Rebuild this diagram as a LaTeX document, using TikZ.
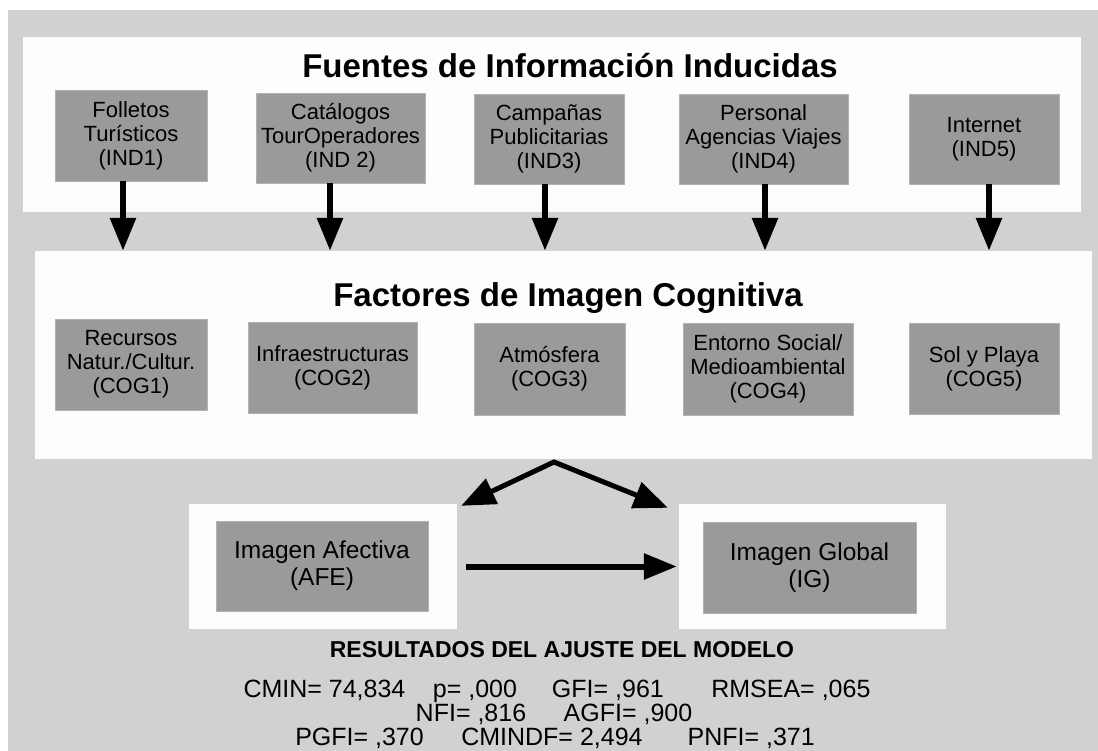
\documentclass[tikz,border=0pt]{standalone}
\usepackage{fontspec}
\setmainfont{Liberation Sans}
\usepackage{tikz}
\usetikzlibrary{arrows.meta}
\definecolor{backgray}{RGB}{209,209,209}
\definecolor{boxgray}{RGB}{154,154,154}
\definecolor{boxedge}{RGB}{178,178,178}
\definecolor{panelwhite}{RGB}{253,253,253}

\tikzset{
  panel/.style={rectangle, fill=panelwhite, inner sep=0pt},
  varbox/.style={rectangle, fill=boxgray, draw=boxedge, line width=0.8pt, inner sep=0pt,
    align=center, font=\fontsize{22}{24}\selectfont},
  bigbox/.style={varbox, font=\fontsize{24.5}{27}\selectfont},
  heading/.style={font=\fontsize{33}{40}\selectfont\bfseries, anchor=base, inner sep=0pt},
  fitline/.style={font=\fontsize{25}{28}\selectfont, anchor=base, inner sep=0pt,
    text height=18pt, text depth=4pt},
  arr/.style={-{Triangle[length=33pt,width=25pt]}, line width=6pt},
}

\begin{document}
\begin{tikzpicture}[x=1pt, y=-1pt]
      % Background
      \useasboundingbox (0,0) rectangle (1098,751);
      \fill[backgray] (8,10) rectangle (1098,751);

      % Induced information sources
      \node[panel, minimum width=1058pt, minimum height=175pt] (ipanel) at (552,124.5) {};
      \node[heading] (ititle) at (570,78) {Fuentes de Información Inducidas};
      \node[varbox, minimum width=152pt, minimum height=91pt] (ind1) at (131,135.5) {Folletos\\Turísticos\\(IND1)};
      \node[varbox, minimum width=169pt, minimum height=90pt] (ind2) at (340.5,138) {Catálogos\\TourOperadores\\(IND 2)};
      \node[varbox, minimum width=150pt, minimum height=90pt] (ind3) at (549,139) {Campañas\\Publicitarias\\(IND3)};
      \node[varbox, minimum width=169pt, minimum height=90pt] (ind4) at (763.5,139) {Personal\\Agencias Viajes\\(IND4)};
      \node[varbox, minimum width=150pt, minimum height=90pt] (ind5) at (984,139) {Internet\\(IND5)};

      % Cognitive image factors
      \node[panel, minimum width=1057pt, minimum height=208pt] (cpanel) at (563.5,355) {};
      \node[heading] (ctitle) at (568,307) {Factores de Imagen Cognitiva};
      \node[varbox, minimum width=152pt, minimum height=91pt] (cog1) at (131,364.5) {Recursos\\Natur./Cultur.\\(COG1)};
      \node[varbox, minimum width=169pt, minimum height=91pt] (cog2) at (332.5,367.5) {Infraestructuras\\(COG2)};
      \node[varbox, minimum width=151pt, minimum height=92pt] (cog3) at (549.5,369) {Atmósfera\\(COG3)};
      \node[varbox, minimum width=170pt, minimum height=92pt] (cog4) at (768,369) {Entorno Social/\\Medioambiental\\(COG4)};
      \node[varbox, minimum width=150pt, minimum height=91pt] (cog5) at (984,368.5) {Sol y Playa\\(COG5)};

      % Draw arrows from sources to factors
      \draw[arr] ([xshift=-8pt]ind1.south) -- ([xshift=-8pt]ind1.south |- cpanel.north);
      \draw[arr] ([xshift=-10.5pt]ind2.south) -- ([xshift=-10.5pt]ind2.south |- cpanel.north);
      \draw[arr] ([xshift=-4pt]ind3.south) -- ([xshift=-4pt]ind3.south |- cpanel.north);
      \draw[arr] ([xshift=1.5pt]ind4.south) -- ([xshift=1.5pt]ind4.south |- cpanel.north);
      \draw[arr] ([xshift=5pt]ind5.south) -- ([xshift=5pt]ind5.south |- cpanel.north);

      % Affective and global image
      \node[panel, minimum width=268pt, minimum height=125pt] (afeo) at (323,566.5) {};
      \node[bigbox, minimum width=212pt, minimum height=90pt] (afe) at (322,566) {Imagen Afectiva\\(AFE)};
      \node[panel, minimum width=267pt, minimum height=125pt] (igo) at (812.5,566.5) {};
      \node[bigbox, minimum width=213pt, minimum height=91pt] (ig) at (809.5,567.5) {Imagen Global\\(IG)};

      % Draw double arrow and direct arrow
      \coordinate (apex) at (554,462);
      \draw[{Triangle[length=34pt,width=27pt]}-{Triangle[length=34pt,width=27pt]}, line width=5pt, line join=miter]
        ([shift={(4pt,-2pt)}]afeo.north east) -- (apex) -- ([shift={(-11pt,-4pt)}]igo.north west);
      \draw[arr] ([xshift=9pt]afeo.east) -- ([xshift=-2pt]igo.west);

      % Fit results
      \node[font=\fontsize{23}{28}\selectfont\bfseries, anchor=base, inner sep=0pt] (fittitle) at (562,657) {RESULTADOS DEL AJUSTE DEL MODELO};
      \node[fitline] (fit1) at (557,697) {CMIN= 74,834\hspace{1.1em}p= ,000\hspace{1.4em}GFI= ,961\hspace{1.9em}RMSEA= ,065};
      \node[fitline] (fit2) at (554,721) {NFI= ,816\hspace{1.5em}AGFI= ,900};
      \node[fitline] (fit3) at (555,745) {PGFI= ,370\hspace{1.5em}CMINDF= 2,494\hspace{1.8em}PNFI= ,371};
    \end{tikzpicture}
\end{document}
